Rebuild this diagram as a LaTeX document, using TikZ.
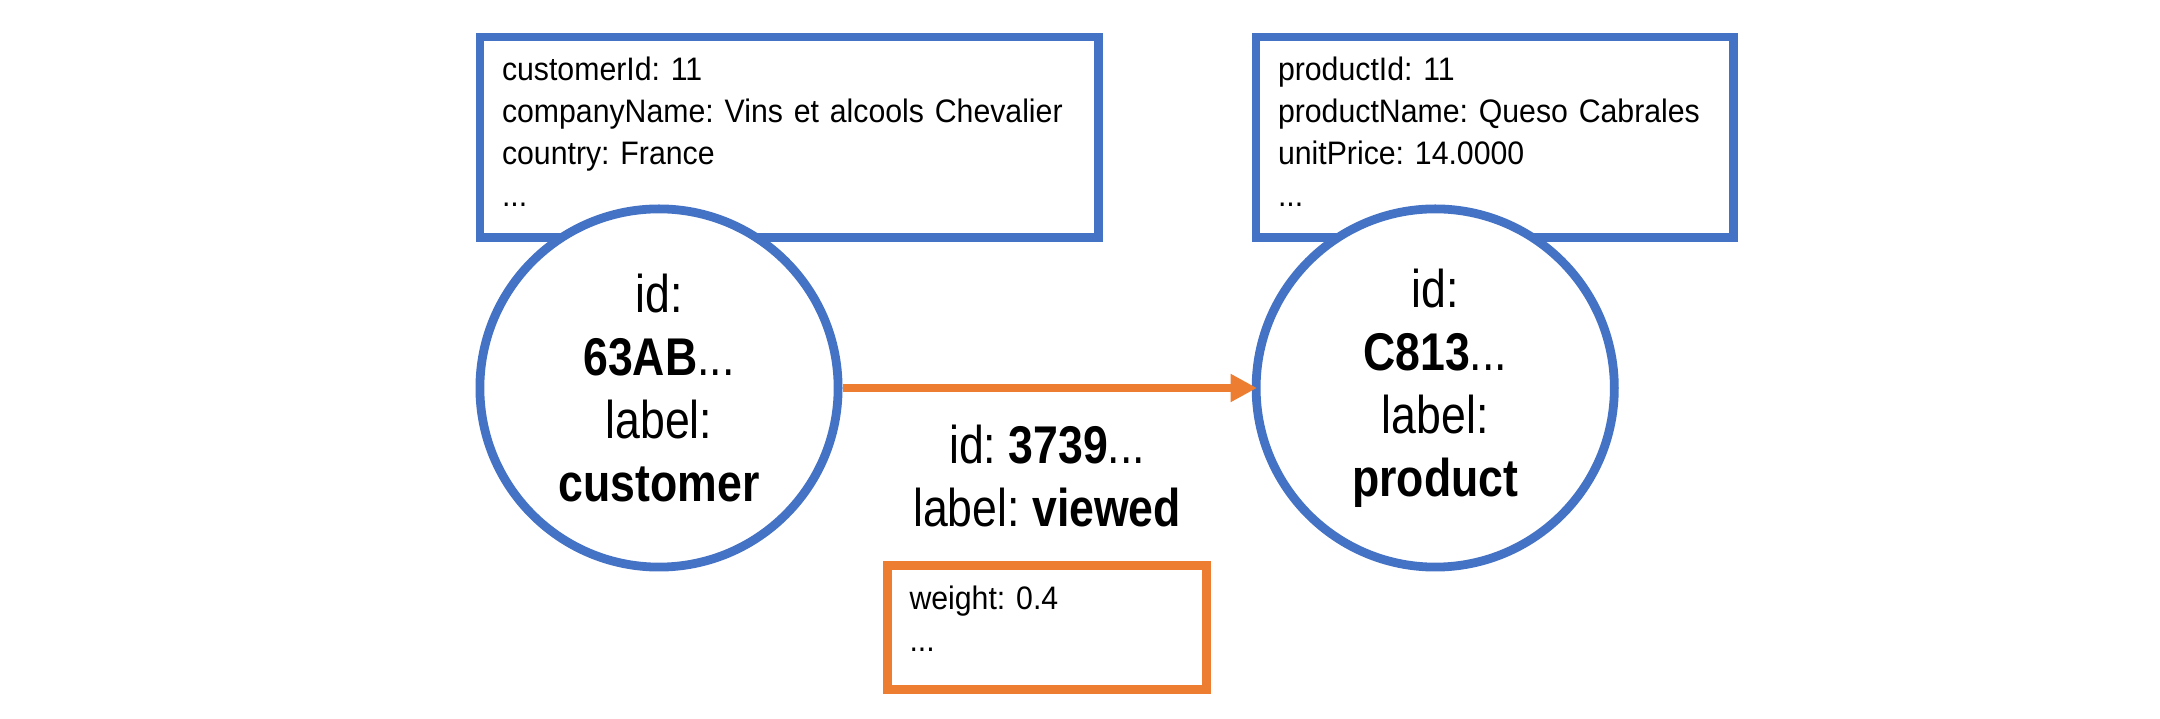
\documentclass[tikz,border=0pt]{standalone}
\usepackage{fontspec}
\setmainfont{Liberation Sans}[FakeStretch=0.93]
\newfontfamily\narrowsans{Liberation Sans}[FakeStretch=0.84]
\usetikzlibrary{arrows.meta, positioning}
\definecolor{vertexblue}{RGB}{68, 114, 196}
\definecolor{edgeorange}{RGB}{237, 125, 49}
\newcommand{\circfont}{\narrowsans\fontsize{15.1pt}{17.9pt}\selectfont}
\newcommand{\propfont}{\fontsize{9.25pt}{11.95pt}\selectfont}
\frenchspacing

\begin{document}
\begin{tikzpicture}[
    x=0.01cm, y=-0.01cm,
    vertex/.style={circle, draw=vertexblue, line width=2.5pt, fill=white,
                   minimum size=3.58cm, inner sep=0pt, align=center, font=\circfont},
    props/.style={rectangle, draw=vertexblue, line width=2.5pt, fill=white, anchor=north west,
                  outer sep=0pt, inner xsep=0.22cm, inner ysep=0.2cm, minimum height=2cm,
                  text depth=1.36cm, align=left, font=\propfont},
    eprops/.style={props, draw=edgeorange, anchor=north, minimum height=1.24cm,
                   text depth=0.6cm, text width=2.75cm},
    elabel/.style={align=center, inner sep=0pt, text=black, font=\circfont},
    arr/.style={-{Triangle[length=7.5pt, width=7.5pt]}, edgeorange, line width=2.5pt}
  ]
  \useasboundingbox (0,0) rectangle (2160,719);

  % property boxes sit behind the vertices
  \node[props, text width=5.74cm] (custprops) at (480,37)
    {customerId: 11\\companyName: Vins et alcools Chevalier\\country: France\\...};
  \node[props, text width=4.33cm] (prodprops) at (1256,37)
    {productId: 11\\productName: Queso Cabrales\\unitPrice: 14.0000\\...};

  \node[vertex] (cust) at (659,388) {id:\\\textbf{63AB}...\\label:\\\textbf{customer}};
  \node[vertex, right=4.09cm of cust] (prod) {id:\\\textbf{C813}...\\label:\\\textbf{product}};

  \draw[arr, shorten >=-1.5pt] (cust) -- node[elabel, below=0.33cm] (elab)
    {id: \textbf{3739}...\\label: \textbf{viewed}} (prod);

  % edge properties
  \node[eprops, below=0.34cm of elab] (viewprops) {weight: 0.4\\...};
\end{tikzpicture}
\end{document}
